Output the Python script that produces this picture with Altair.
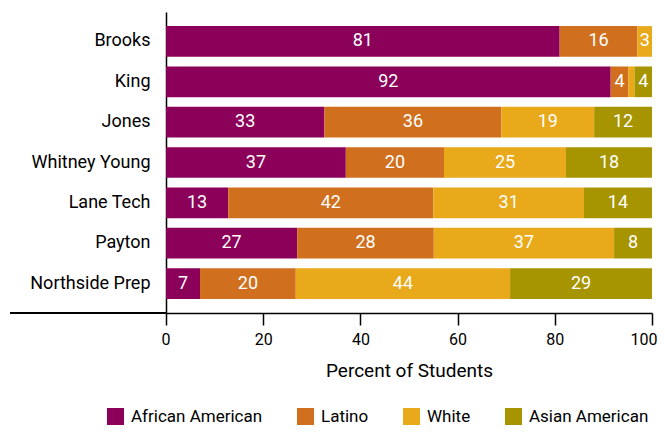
import altair as alt
import pandas as pd

schools = ["Brooks", "King", "Jones", "Whitney Young", "Lane Tech", "Payton", "Northside Prep"]
groups = ["African American", "Latino", "White", "Asian American"]
colors = ["#8B0059", "#D0701E", "#E8A91A", "#A69500"]

african_american = [81.0, 91.5, 32.6, 37.0, 12.8, 27.0, 7.0]
latino = [16.0, 3.6, 36.4, 20.2, 42.2, 28.1, 19.7]
white = [3.0, 1.3, 19.1, 25.1, 31.0, 37.1, 44.1]
asian_american = [0.0, 3.6, 11.9, 17.7, 14.0, 7.8, 29.2]

series = [african_american, latino, white, asian_american]

rows = []
for i, s in enumerate(schools):
    start = 0.0
    for g, vals in zip(groups, series):
        v = vals[i]
        rows.append({"school": s, "group": g, "value": v,
                     "start": start, "end": start + v, "mid": start + v / 2})
        start += v
df = pd.DataFrame(rows)

FONT = "Roboto, Liberation Sans, sans-serif"

y_enc = alt.Y("school:N", sort=schools, title=None,
              scale=alt.Scale(paddingInner=0.24, paddingOuter=0.35),
              axis=alt.Axis(ticks=False, labelFontSize=18, labelColor="black",
                            labelPadding=16, domainColor="black", domainWidth=1.5,
                            labelFont=FONT))

bars = alt.Chart(df).mark_bar().encode(
    x=alt.X("start:Q", scale=alt.Scale(domain=[0, 100], nice=False),
            title="Percent of Students",
            axis=alt.Axis(values=[0, 20, 40, 60, 80, 100], grid=False, tickSize=12,
                          tickColor="black", tickWidth=1.5, domainColor="black",
                          domainWidth=1.5, labelFontSize=16, labelColor="black",
                          labelPadding=6, labelFlush=True, labelFlushOffset=5,
                          labelFont=FONT, titleFont=FONT,
                          titleFontSize=19, titleFontWeight="normal", titleColor="black",
                          titlePadding=14)),
    x2="end:Q",
    y=y_enc,
    color=alt.Color("group:N", sort=groups,
                    scale=alt.Scale(domain=groups, range=colors),
                    legend=alt.Legend(title=None, orient="none", direction="horizontal",
                                      legendX=-59, legendY=396,
                                      symbolType="square", symbolSize=289,
                                      symbolStrokeWidth=0, symbolOpacity=1,
                                      labelFontSize=17, labelFont=FONT, labelColor="black",
                                      labelOffset=7, columnPadding=34)),
)

labels = alt.Chart(df).transform_filter("datum.value >= 2").mark_text(
    color="white", fontSize=18, font=FONT, baseline="middle", align="center"
).encode(
    x=alt.X("mid:Q"),
    y=alt.Y("school:N", sort=schools),
    text=alt.Text("value:Q", format=".0f"),
)

left_line = alt.Chart(df).mark_rule(color="black", strokeWidth=1.5).encode(
    x=alt.value(-156), x2=alt.value(0), y=alt.value(301)
)

chart = alt.layer(bars, labels, left_line).properties(
    width=486, height=301,
    autosize=alt.AutoSizeParams(type="none"),
    padding={"left": 158, "top": 4, "right": 5, "bottom": 113},
).configure_view(stroke=None).configure_axis(labelFont=FONT, titleFont=FONT)

chart.save("out.html", embed_options={"renderer": "svg", "actions": False})
